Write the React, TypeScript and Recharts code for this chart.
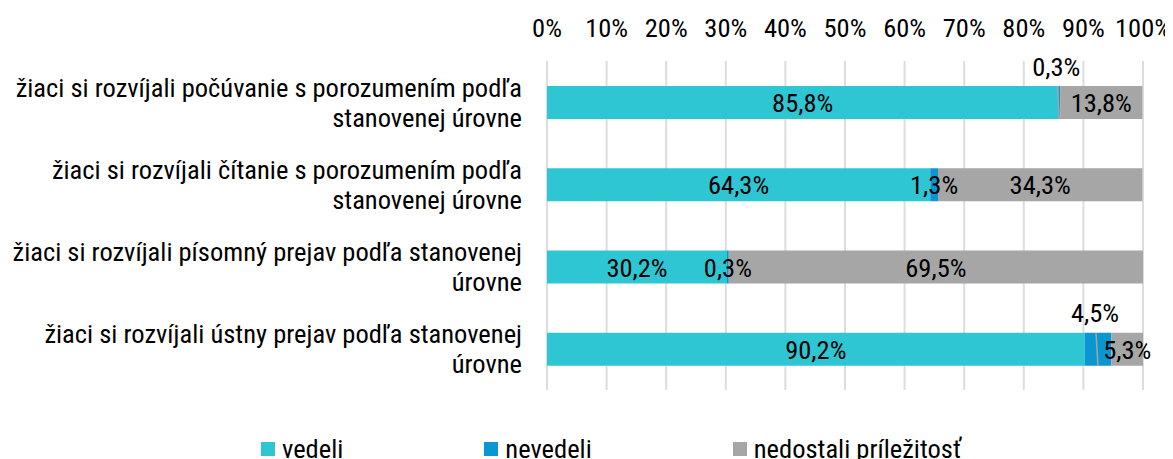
import React from 'react';
import { BarChart, Bar, XAxis, YAxis, CartesianGrid, LabelList, Legend } from 'recharts';

const categories = [
  'žiaci si rozvíjali počúvanie s porozumením podľa\nstanovenej úrovne',
  'žiaci si rozvíjali čítanie s porozumením podľa\nstanovenej úrovne',
  'žiaci si rozvíjali písomný prejav podľa stanovenej\núrovne',
  'žiaci si rozvíjali ústny prejav podľa stanovenej\núrovne',
];
const vedeli = [85.8, 64.3, 30.2, 90.2];
const nevedeli = [0.3, 1.3, 0.3, 4.5];
const nedostali = [13.8, 34.3, 69.5, 5.3];
const xTicks = [0, 10, 20, 30, 40, 50, 60, 70, 80, 90, 100];
const seriesKeys = ['vedeli', 'nevedeli', 'nedostali'];
const seriesNames = ['vedeli', 'nevedeli', 'nedostali príležitosť'];
const colors = ['#2EC6D2', '#0A96D0', '#A6A6A6'];
const calloutRows = [0, 3];

const FONT = "'Roboto Condensed', 'Liberation Sans Narrow', 'DejaVu Sans Condensed', Roboto, sans-serif";
const FS = 26.5;

const data = categories.map((name, i) => ({
  name,
  vedeli: vedeli[i],
  nevedeli: nevedeli[i],
  nedostali: nedostali[i],
}));

const fmt = (v: number) => v.toFixed(1).replace('.', ',') + '%';

const CenterLabel = (props: any) => {
  const { x, y, width, height, value } = props;
  return (
    <text x={x + width / 2} y={y + height / 2} dy="0.36em" textAnchor="middle" fontFamily={FONT} fontSize={FS} fill="#000">
      {fmt(value)}
    </text>
  );
};

const NevedeliLabel = (props: any) => {
  const { x, y, width, height, value, index } = props;
  const cx = x + width / 2;
  if (calloutRows.includes(index)) {
    return (
      <g>
        <line x1={cx - 2} y1={y} x2={cx} y2={y + height} stroke="#A6A6A6" strokeWidth={1.5} />
        <text x={cx - 3} y={y - 20} dy="0.36em" textAnchor="middle" fontFamily={FONT} fontSize={FS} fill="#000">
          {fmt(value)}
        </text>
      </g>
    );
  }
  return (
    <text x={cx} y={y + height / 2} dy="0.36em" textAnchor="middle" fontFamily={FONT} fontSize={FS} fill="#000">
      {fmt(value)}
    </text>
  );
};

const CategoryTick = (props: any) => {
  const { x, y, payload } = props;
  const lines = String(payload.value).split('\n');
  return (
    <text x={x} y={y} textAnchor="end" fontFamily={FONT} fontSize={FS} fill="#000">
      {lines.map((l, i) => (
        <tspan key={i} x={x} y={y - 15 + i * 30} dy="0.36em">{l}</tspan>
      ))}
    </text>
  );
};

const LegendContent = () => (
  <div style={{ display: 'flex', gap: 141, fontFamily: FONT, fontSize: FS, color: '#000', alignItems: 'center', whiteSpace: 'nowrap' }}>
    {seriesNames.map((n, i) => (
      <div key={n} style={{ display: 'flex', alignItems: 'center' }}>
        <span style={{ display: 'inline-block', width: 14, height: 14, background: colors[i], marginRight: 7 }} />
        <span>{n}</span>
      </div>
    ))}
  </div>
);

export default function App() {
  return (
    <BarChart
      width={1160}
      height={451}
      data={data}
      layout="vertical"
      margin={{ top: 23, right: 25, bottom: 69, left: 0 }}
    >
      <CartesianGrid horizontal={false} stroke="#DDDDDD" strokeWidth={2} />
      <XAxis
        type="number"
        orientation="top"
        domain={[0, 100]}
        ticks={xTicks}
        tickFormatter={(v: number) => `${v}%`}
        axisLine={false}
        tickLine={false}
        tickMargin={18}
        height={30}
        interval={0}
        tick={{ fontFamily: FONT, fontSize: FS, fill: '#000' }}
      />
      <YAxis
        type="category"
        dataKey="name"
        width={539}
        axisLine={false}
        tickLine={false}
        tickSize={0}
        tickMargin={25}
        tick={<CategoryTick />}
        interval={0}
      />
      <Legend
        layout="horizontal"
        align="center"
        verticalAlign="middle"
        content={<LegendContent />}
        wrapperStyle={{ position: 'absolute', left: 253, top: 425, width: 'auto', height: 'auto' }}
      />
      {seriesKeys.map((k, i) => (
        <Bar key={k} dataKey={k} name={seriesNames[i]} stackId="a" fill={colors[i]} barSize={33} isAnimationActive={false}>
          <LabelList dataKey={k} content={i === 1 ? <NevedeliLabel /> : <CenterLabel />} />
        </Bar>
      ))}
    </BarChart>
  );
}
